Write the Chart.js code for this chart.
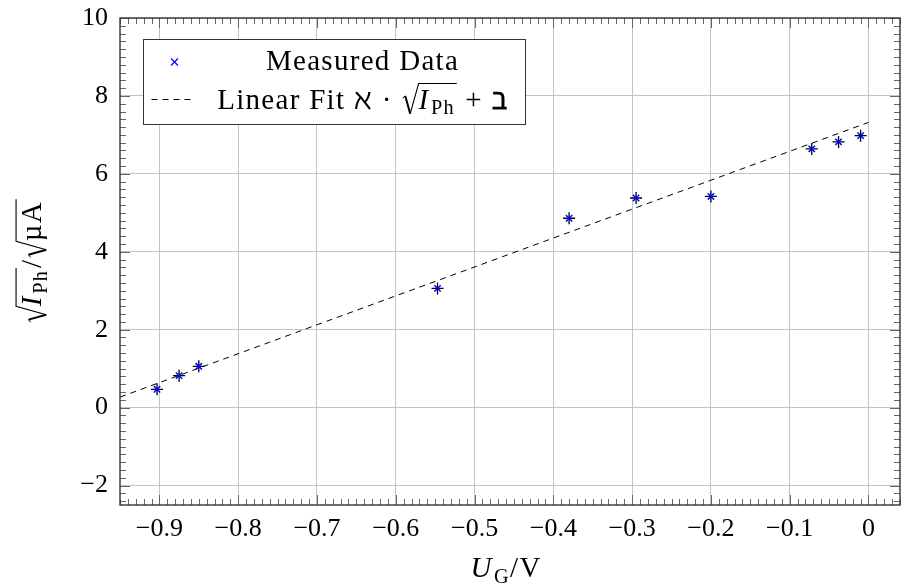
<!DOCTYPE html>
<html>
<head>
<meta charset="utf-8">
<script src="https://cdn.jsdelivr.net/npm/chart.js@4.4.1/dist/chart.umd.min.js"></script>
<style>
  html, body { margin: 0; padding: 0; background: #fff; }
  #wrap { width: 904px; height: 588px; }
</style>
</head>
<body>
<div id="wrap"><canvas id="fit-chart" width="904" height="588"></canvas></div>
<script>
// gate voltage U_G / V
const gateVoltage = [-0.903, -0.875, -0.85, -0.547, -0.38, -0.295, -0.2, -0.072, -0.038, -0.01];
// sqrt(I_Ph) / sqrt(uA)
const sqrtPhotoCurrent = [0.47, 0.82, 1.06, 3.06, 4.86, 5.38, 5.42, 6.64, 6.82, 6.98];
// end points of the linear fit
const fitVoltage = [-0.95, 0];
const fitSqrtCurrent = [0.27, 7.32];

const xTicks = [-0.9, -0.8, -0.7, -0.6, -0.5, -0.4, -0.3, -0.2, -0.1, 0];
const yTicks = [-2, 0, 2, 4, 6, 8, 10];
const xRange = [-0.95, 0.04];
const yRange = [-2.5, 10];

const SERIF = '"Liberation Serif", "DejaVu Serif", serif';

function fmtTick(v) {
    return v < 0 ? '\u2212' + String(Math.abs(v)) : String(v);
}

function setFont(ctx, size, italic, bold) {
    ctx.font = (italic ? 'italic ' : '') + (bold ? 'bold ' : '') + size + 'px ' + SERIF;
}

// width of a small "math" string made of parts
function richWidth(ctx, parts, size) {
    let w = 0;
    for (const p of parts) {
        if (p.sqrt) {
            w += size * 0.6 + richWidth(ctx, p.sqrt, size) + size * 0.06;
        } else {
            setFont(ctx, p.sub ? size * 0.7 : size, p.it, p.bold);
            w += ctx.measureText(p.t).width + (p.it ? size * 0.05 : 0);
        }
    }
    return w;
}

function drawRich(ctx, parts, x, y, size) {
    for (const p of parts) {
        if (p.sqrt) {
            const iw = richWidth(ctx, p.sqrt, size);
            const top = y - size * 0.86;
            ctx.save();
            ctx.strokeStyle = '#000';
            ctx.lineWidth = 1;
            ctx.beginPath();
            ctx.moveTo(x + size * 0.05, y - size * 0.36);
            ctx.lineTo(x + size * 0.14, y - size * 0.43);
            ctx.stroke();
            ctx.lineWidth = 2;
            ctx.beginPath();
            ctx.moveTo(x + size * 0.14, y - size * 0.43);
            ctx.lineTo(x + size * 0.31, y + size * 0.18);
            ctx.stroke();
            ctx.lineWidth = 1.1;
            ctx.beginPath();
            ctx.moveTo(x + size * 0.31, y + size * 0.18);
            ctx.lineTo(x + size * 0.6, top);
            ctx.lineTo(x + size * 0.6 + iw + size * 0.06, top);
            ctx.stroke();
            ctx.restore();
            drawRich(ctx, p.sqrt, x + size * 0.6, y, size);
            x += size * 0.6 + iw + size * 0.06;
        } else {
            setFont(ctx, p.sub ? size * 0.7 : size, p.it, p.bold);
            ctx.fillText(p.t, x, p.sub ? y + size * 0.2 : y);
            x += ctx.measureText(p.t).width + (p.it ? size * 0.05 : 0);
        }
    }
    return x;
}

const xTitle = [{t: 'U', it: true}, {t: 'G', sub: true}, {t: '/V'}];
const yTitle = [{sqrt: [{t: 'I', it: true}, {t: 'Ph', sub: true}]}, {t: '/'}, {sqrt: [{t: '\u00b5A'}]}];
const legendMeasured = [{t: 'Measured Data'}];
const legendFit = [{t: 'Linear Fit '}, {t: '\u2135'}, {t: ' \u00b7 '},
    {sqrt: [{t: 'I', it: true}, {t: 'Ph', sub: true}]}, {t: ' + '}, {t: '\u2136', bold: true}];

// frame, inward ticks, legend box and axis titles (pgfplots look)
const axisDecor = {
    id: 'axisDecor',
    afterDatasetsDraw(chart) {
        const ctx = chart.ctx;
        const a = chart.chartArea;
        const xs = chart.scales.x, ys = chart.scales.y;
        ctx.save();

        // ticks
        ctx.strokeStyle = '#666';
        ctx.lineWidth = 1;
        ctx.beginPath();
        for (let i = -95; i <= 4; i++) {
            const px = Math.round(xs.getPixelForValue(i / 100)) + 0.5;
            const len = (i % 10 === 0) ? 10 : 6;
            ctx.moveTo(px, a.top); ctx.lineTo(px, a.top + len);
            ctx.moveTo(px, a.bottom); ctx.lineTo(px, a.bottom - len);
        }
        for (let j = -12; j <= 50; j++) {
            const py = Math.round(ys.getPixelForValue(j / 5)) + 0.5;
            const len = (j % 10 === 0) ? 10 : 6;
            ctx.moveTo(a.left, py); ctx.lineTo(a.left + len, py);
            ctx.moveTo(a.right, py); ctx.lineTo(a.right - len, py);
        }
        ctx.stroke();

        // frame
        ctx.strokeStyle = '#333';
        ctx.lineWidth = 1.4;
        ctx.strokeRect(a.left, a.top, a.right - a.left, a.bottom - a.top);

        // legend
        const bx = a.left + 23.5, by = a.top + 21.5, bw = 382, bh = 85;
        ctx.fillStyle = '#fff';
        ctx.fillRect(bx, by, bw, bh);
        ctx.strokeStyle = '#333';
        ctx.lineWidth = 1;
        ctx.strokeRect(bx, by, bw, bh);

        ctx.strokeStyle = '#0000ff';
        ctx.lineWidth = 1.2;
        const mx = bx + 31, my = by + 22.5, r = 3.5;
        ctx.beginPath();
        ctx.moveTo(mx - r, my - r); ctx.lineTo(mx + r, my + r);
        ctx.moveTo(mx - r, my + r); ctx.lineTo(mx + r, my - r);
        ctx.stroke();

        ctx.strokeStyle = '#000';
        ctx.lineWidth = 1;
        ctx.setLineDash([6, 5]);
        ctx.beginPath();
        ctx.moveTo(bx + 8, by + 60); ctx.lineTo(bx + 50, by + 60);
        ctx.stroke();
        ctx.setLineDash([]);

        ctx.fillStyle = '#000';
        ctx.textAlign = 'left';
        ctx.textBaseline = 'alphabetic';
        ctx.letterSpacing = '1.3px';
        const fs = 29;
        const cx = bx + 219;
        drawRich(ctx, legendMeasured, cx - richWidth(ctx, legendMeasured, fs) / 2, by + 30, fs);
        drawRich(ctx, legendFit, cx - richWidth(ctx, legendFit, fs) / 2, by + 69, fs);

        // axis titles
        const xw = richWidth(ctx, xTitle, fs);
        drawRich(ctx, xTitle, (a.left + a.right) / 2 - xw / 2 - 4, 577, fs);

        ctx.translate(41, (a.top + a.bottom) / 2);
        ctx.rotate(-Math.PI / 2);
        const yw = richWidth(ctx, yTitle, fs);
        drawRich(ctx, yTitle, -yw / 2, 0, fs);
        ctx.letterSpacing = '0px';

        ctx.restore();
    }
};

const measuredPoints = gateVoltage.map((v, i) => ({x: v, y: sqrtPhotoCurrent[i]}));
const fitPoints = fitVoltage.map((v, i) => ({x: v, y: fitSqrtCurrent[i]}));

new Chart(document.getElementById('fit-chart').getContext('2d'), {
    type: 'scatter',
    data: {
        datasets: [{
            label: 'Linear Fit',
            data: fitPoints,
            showLine: true,
            borderColor: '#000',
            borderWidth: 1,
            borderDash: [6, 5],
            pointRadius: 0,
            fill: false,
            order: 3
        }, {
            label: 'Error',
            data: measuredPoints,
            pointStyle: 'cross',
            pointRadius: 6,
            borderColor: '#000',
            borderWidth: 1.3,
            order: 2
        }, {
            label: 'Measured Data',
            data: measuredPoints,
            pointStyle: 'crossRot',
            pointRadius: 4.5,
            borderColor: '#0000ff',
            borderWidth: 1.5,
            order: 1
        }]
    },
    options: {
        responsive: false,
        animation: false,
        events: [],
        layout: { autoPadding: false, padding: { top: 18, right: 4, left: 0, bottom: 0 } },
        plugins: {
            legend: { display: false },
            tooltip: { enabled: false }
        },
        scales: {
            x: {
                type: 'linear',
                min: xRange[0],
                max: xRange[1],
                afterBuildTicks: s => { s.ticks = xTicks.map(v => ({value: v})); },
                afterFit: s => { s.height = 83; s.paddingLeft = 0; s.paddingRight = 0; },
                grid: { color: '#c4c4c4', lineWidth: 1, drawTicks: false },
                border: { display: false },
                ticks: {
                    padding: 9,
                    color: '#000',
                    maxRotation: 0,
                    autoSkip: false,
                    font: { family: SERIF, size: 26 },
                    callback: v => fmtTick(v)
                }
            },
            y: {
                type: 'linear',
                min: yRange[0],
                max: yRange[1],
                afterBuildTicks: s => { s.ticks = yTicks.map(v => ({value: v})); },
                afterFit: s => { s.width = 120; s.paddingTop = 0; s.paddingBottom = 0; },
                grid: { color: '#c4c4c4', lineWidth: 1, drawTicks: false },
                border: { display: false },
                ticks: {
                    padding: 12,
                    color: '#000',
                    autoSkip: false,
                    font: { family: SERIF, size: 26 },
                    callback: v => fmtTick(v)
                }
            }
        }
    },
    plugins: [axisDecor]
});
</script>
</body>
</html>
